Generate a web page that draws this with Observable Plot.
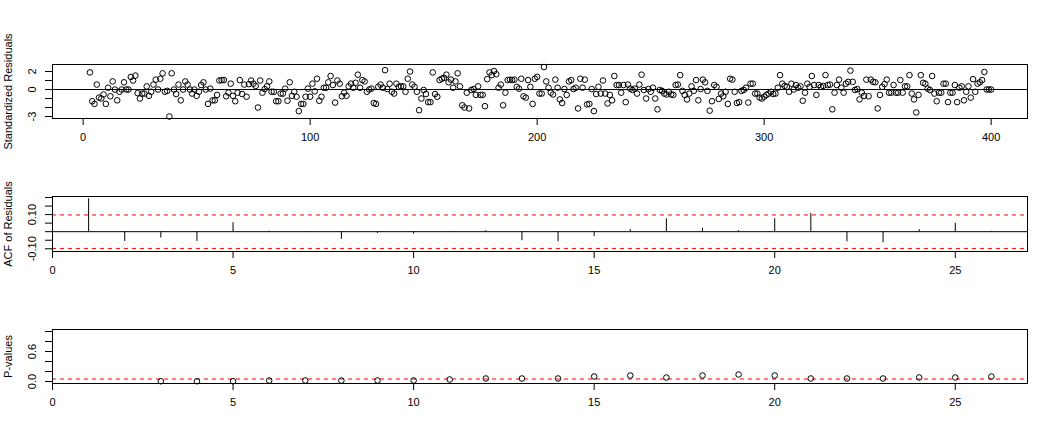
<!DOCTYPE html>
<html><head><meta charset="utf-8">
<script src="https://cdn.jsdelivr.net/npm/d3@7"></script>
<script src="https://cdn.jsdelivr.net/npm/@observablehq/plot@0.6"></script>
<style>
body{margin:0;background:#fff;}
#chart{position:relative;width:1053px;height:435px;background:#fff;}
#chart svg{display:block;overflow:visible;}
</style></head><body><div id="chart"></div>
<script>
// ---- Panel 1: standardized residuals ----
const residStartIndex = 3;
const residuals = [
 1.9,-1.3,-1.6,0.55,-0.9,-1.0,-0.55,-1.6,0.2,-0.75,
 0.9,0,-1.2,-0.25,0,0.8,0,0,1.4,1.0,
 1.55,-0.4,-1.0,-0.45,-0.45,0.35,-0.7,-0.25,0.55,1.1,
 0,1.2,1.8,-0.25,-0.15,-3.0,1.8,0,-0.5,0.55,
 -1.2,0,0.9,0.55,0,-0.45,0,-0.7,-0.25,0.5,
 0.8,0,-1.6,0.1,-1.2,-1.2,-0.6,1.0,1.05,1.05,
 -0.75,-0.35,0.65,-0.7,-1.3,-0.35,1.05,-0.5,0.55,-0.8,
 0.6,1.0,0.65,0.4,-2.0,1.0,-0.35,0.05,0.35,0.9,
 -0.25,-0.25,-1.3,-1.3,-0.45,-0.45,0.1,-1.25,0.8,-0.7,
 -0.25,-0.8,-2.4,-1.6,-1.6,-0.8,0.1,-0.8,0.65,-0.2,
 1.2,-1.25,-0.8,0.2,0.2,0.8,1.5,0.5,-1.45,1.0,
 0.65,-0.75,-0.35,-0.7,0.35,0.65,
 0.2,0.75,1.65,0.2,1.05,0.9,-0.25,0,0.1,-1.5,
 -1.6,0.3,0.55,0.2,2.15,0.05,0.65,-0.25,-0.45,0.65,
 0.3,0.35,0.35,-0.25,1.2,2.0,0.55,0.3,-0.25,-2.3,
 -1.0,-0.05,-0.5,-1.4,-1.4,1.9,-0.5,-0.8,1.05,1.2,
 1.3,1.65,0.8,1.1,0.2,0.9,1.8,0.35,-1.75,-2.0,
 -0.35,-2.1,-0.05,0.05,-0.6,0.35,-0.6,-0.6,-1.85,1.15,
 1.9,1.6,2.05,1.7,0.2,0.55,-1.75,-0.35,1.05,1.1,
 1.05,1.1,0.3,0.1,1.2,-0.75,-0.9,1.05,0.3,-1.6,
 1.2,1.4,-0.45,-0.45,2.5,0.9,0.2,-0.35,-0.55,1.1,
 0.2,-1.1,-1.5,0.05,-0.6,0.9,1.05,0.05,0.2,-2.1,
 1.2,0.2,1.1,-1.65,-1.6,0.05,-2.4,-0.5,0.3,-0.45,
 1.0,-0.45,-1.55,-0.6,-1.2,1.5,0.5,0.5,-0.35,0.5,
 -1.4,0.55,0.1,-0.05,0.1,-0.45,0.55,1.65,-0.05,-1.0,
 0.05,-0.25,0.2,-1.0,-2.2,-0.05,-0.15,-0.45,-0.55,-0.25,
 -0.55,-0.6,0.5,0.55,1.6,-0.15,-0.6,
 -1.1,-0.45,0.35,-0.15,1.05,-1.2,0.05,1.1,0.8,-0.15,
 -2.35,-1.3,0.5,0.3,-1.05,-0.45,-0.75,-0.25,-1.6,1.2,
 1.1,-0.25,-1.5,-1.4,-0.15,-0.05,0.2,-1.45,0.65,0.65,
 -0.45,-0.45,-0.9,-1.0,-0.8,-0.6,-0.45,-0.25,-0.5,-0.45,
 0.2,1.6,0.65,0.4,0.3,-0.25,0.65,0,0.5,0.2,
 0.35,-1.25,-0.35,0.65,0.3,1.5,0.5,-0.6,0.5,0.3,
 0.4,1.6,0.5,0.55,-2.2,-0.35,0.5,1.1,0.2,-0.35,
 0.65,0.85,2.1,0.85,-0.05,0.05,-1.1,-0.35,-0.7,1.1,
 -0.75,1.1,0.85,0.8,-2.1,-0.6,0.3,0.6,1.1,-0.35,
 -0.35,0.5,-0.35,-0.35,1.05,-0.35,0.35,0.35,1.6,-0.45,
 -1.1,-2.55,-0.6,1.6,0.75,0.65,0.1,-0.05,1.5,-0.45,
 -1.3,-0.35,-0.35,0.65,0.65,-1.4,-0.35,-0.35,0.5,-1.4,
 0.2,0.35,-1.2,-0.25,0.35,-0.9,1.15,-0.25,0.65,0.8,
 1.05,1.95,0,0,0
];
const residXTicks = [0, 100, 200, 300, 400];
const residYTicks = [-3, -2, -1, 0, 1, 2];
const residYLabelValues = [2, 0, -3];
const residYLabelTexts = ["2", "0", "-3"];
const residTitle = "Standardized Residuals";

// ---- Panel 2: ACF of residuals ----
const acfLags = [1,2,3,4,5,6,7,8,9,10,11,12,13,14,15,16,17,18,19,20,21,22,23,24,25,26];
const acfValues = [0.192,-0.057,-0.037,-0.057,0.053,0.003,-0.002,-0.045,-0.01,-0.014,0.002,0.006,-0.053,-0.059,-0.029,0.012,0.075,0.02,0.006,0.076,0.106,-0.059,-0.065,0.012,0.049,0.002];
const acfBound = 0.098;
const acfYTicks = [-0.10, -0.05, 0, 0.05, 0.10, 0.15, 0.20];
const acfYLabelValues = [0.10, -0.10];
const acfYLabelTexts = ["0.10", "-0.10"];
const lagXTicks = [0, 5, 10, 15, 20, 25];
const acfTitle = "ACF of Residuals";

// ---- Panel 3: Ljung-Box p-values ----
const pLags = [3,4,5,6,7,8,9,10,11,12,13,14,15,16,17,18,19,20,21,22,23,24,25,26];
const pValues = [0.005,0.005,0.005,0.02,0.02,0.02,0.02,0.02,0.04,0.06,0.06,0.06,0.10,0.12,0.08,0.12,0.14,0.12,0.06,0.06,0.06,0.08,0.08,0.10];
const pThreshold = 0.05;
const pYTicks = [0, 0.2, 0.4, 0.6, 0.8, 1.0];
const pYLabelValues = [0.0, 0.6];
const pYLabelTexts = ["0.0", "0.6"];
const pTitle = "P-values";

const font = "'Liberation Sans', Arial, Helvetica, sans-serif";
const style = {fontSize: "11px", fontFamily: font, color: "black", background: "white", overflow: "visible"};

function yLabelMarks(vals, texts, title) {
  const lab = vals.map((v, i) => ({v, t: texts[i]}));
  return [
    Plot.text(lab, {y: "v", text: "t", frameAnchor: "left", rotate: -90, dx: -20.5, textAnchor: "middle", lineAnchor: "middle", fill: "black"}),
    Plot.text([title], {text: d => d, frameAnchor: "left", rotate: -90, dx: -44.5, textAnchor: "middle", lineAnchor: "middle", fill: "black"})
  ];
}

const chart = document.getElementById("chart");

const residData = residuals.map((v, i) => ({t: i + residStartIndex, v}));
chart.appendChild(Plot.plot({
  width: 1053, height: 148, marginLeft: 52, marginRight: 26, marginTop: 64, marginBottom: 30,
  style,
  x: {domain: [-13.5, 416]},
  y: {domain: [-3.22, 2.78]},
  marks: [
    Plot.ruleY([0], {stroke: "black"}),
    Plot.dot(residData, {x: "t", y: "v", r: 2.8, stroke: "black", fill: "none", strokeWidth: 1}),
    Plot.frame({stroke: "black"}),
    Plot.axisX(residXTicks, {tickSize: 7, tickPadding: 8, label: null}),
    Plot.axisY(residYTicks, {tickSize: 7, tickFormat: () => "", label: null}),
    ...yLabelMarks(residYLabelValues, residYLabelTexts, residTitle)
  ]
}));

const acfData = acfLags.map((l, i) => ({lag: l, acf: acfValues[i]}));
chart.appendChild(Plot.plot({
  width: 1053, height: 133, marginLeft: 52, marginRight: 26, marginTop: 48, marginBottom: 30,
  style,
  x: {domain: [0, 27]},
  y: {domain: [-0.116, 0.206]},
  marks: [
    Plot.ruleY([0], {stroke: "black"}),
    Plot.ruleY([acfBound, -acfBound], {stroke: "red", strokeDasharray: "4,4"}),
    Plot.ruleX(acfData, {x: "lag", y1: 0, y2: "acf", stroke: "black"}),
    Plot.frame({stroke: "black"}),
    Plot.axisX(lagXTicks, {tickSize: 7, tickPadding: 8, label: null}),
    Plot.axisY(acfYTicks, {tickSize: 7, tickFormat: () => "", label: null}),
    ...yLabelMarks(acfYLabelValues, acfYLabelTexts, acfTitle)
  ]
}));

const pData = pLags.map((l, i) => ({lag: l, p: pValues[i]}));
chart.appendChild(Plot.plot({
  width: 1053, height: 132, marginLeft: 52, marginRight: 26, marginTop: 48, marginBottom: 30,
  style,
  x: {domain: [0, 27]},
  y: {domain: [-0.04, 1.04]},
  marks: [
    Plot.ruleY([pThreshold], {stroke: "red", strokeDasharray: "4,4"}),
    Plot.dot(pData, {x: "lag", y: "p", r: 2.8, stroke: "black", fill: "none", strokeWidth: 1}),
    Plot.frame({stroke: "black"}),
    Plot.axisX(lagXTicks, {tickSize: 7, tickPadding: 8, label: null}),
    Plot.axisY(pYTicks, {tickSize: 7, tickFormat: () => "", label: null}),
    ...yLabelMarks(pYLabelValues, pYLabelTexts, pTitle)
  ]
}));
</script></body></html>
